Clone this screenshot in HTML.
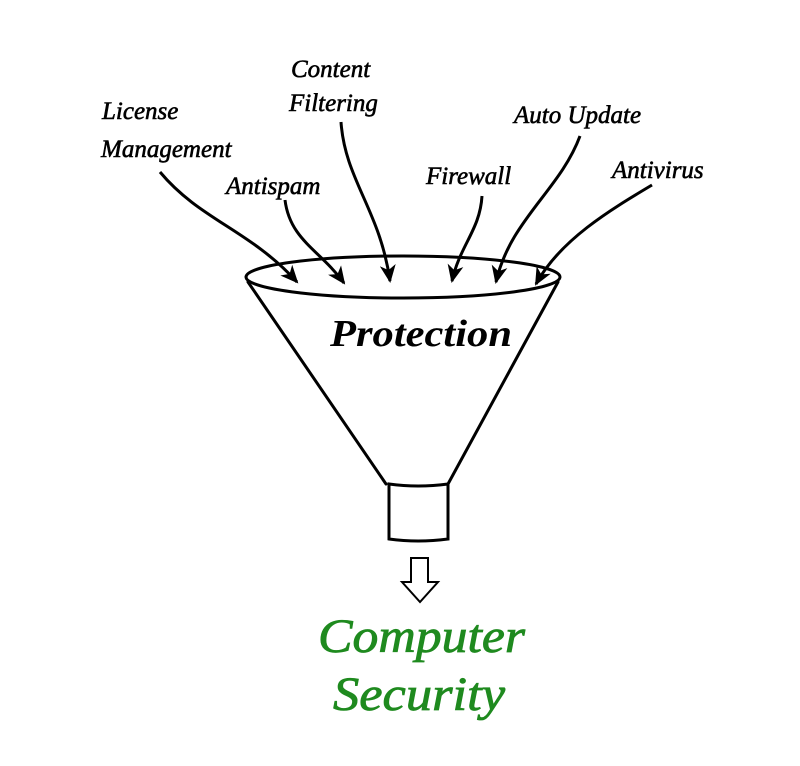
<!DOCTYPE html>
<html><head><style>
body{margin:0;background:#fff;}
svg{display:block}
text{font-family:"Liberation Serif",serif;font-style:italic;}
</style></head><body>
<svg width="800" height="766" viewBox="0 0 800 766">
<defs>
<marker id="a" markerWidth="18" markerHeight="18" refX="16" refY="8" orient="auto" markerUnits="userSpaceOnUse" viewBox="0 0 18 16">
<path d="M0,0 L18,8 L0,16 L5,8 Z" fill="#000"/>
</marker>
</defs>
<g fill="none" stroke="#000" stroke-width="3" stroke-linecap="round">
<path d="M248,282 L386,484"/>
<path d="M558,282 L448,484"/>
<ellipse cx="403" cy="277" rx="157" ry="21"/>
<path d="M389,484 Q418,488 448,484 L448,539 Q418,543 389,539 Z"/>
</g>
<path d="M411,558 L428,558 L428,582 L438,582 L420,602 L402,582 L411,582 Z" fill="#fff" stroke="#000" stroke-width="2"/>
<g fill="none" stroke="#000" stroke-width="3" marker-end="url(#a)">
<path d="M160,172 C200,220 250,230 297,282"/>
<path d="M285,200 C290,240 320,250 344,283"/>
<path d="M341,122 C345,180 380,210 390,281"/>
<path d="M482,196 C480,230 460,245 452,281"/>
<path d="M580,136 C560,190 510,220 496,282"/>
<path d="M652,185 C610,210 560,240 536,284"/>
</g>
<g font-size="25" fill="#000" stroke="#000" stroke-width="0.6">
<text x="102" y="119">License</text>
<text x="101" y="157">Management</text>
<text x="226" y="194">Antispam</text>
<text x="291" y="77">Content</text>
<text x="289" y="111">Filtering</text>
<text x="426" y="184">Firewall</text>
<text x="514" y="123">Auto Update</text>
<text x="612" y="178">Antivirus</text>
</g>
<text x="330" y="346" font-size="38" font-weight="bold" fill="#000" textLength="182" lengthAdjust="spacingAndGlyphs">Protection</text>
<g font-size="48" fill="#1f8a1f" stroke="#1f8a1f" stroke-width="0.8">
<text x="318" y="652" textLength="207" lengthAdjust="spacingAndGlyphs">Computer</text>
<text x="333" y="710" textLength="172" lengthAdjust="spacingAndGlyphs">Security</text>
</g>
</svg>
</body></html>
